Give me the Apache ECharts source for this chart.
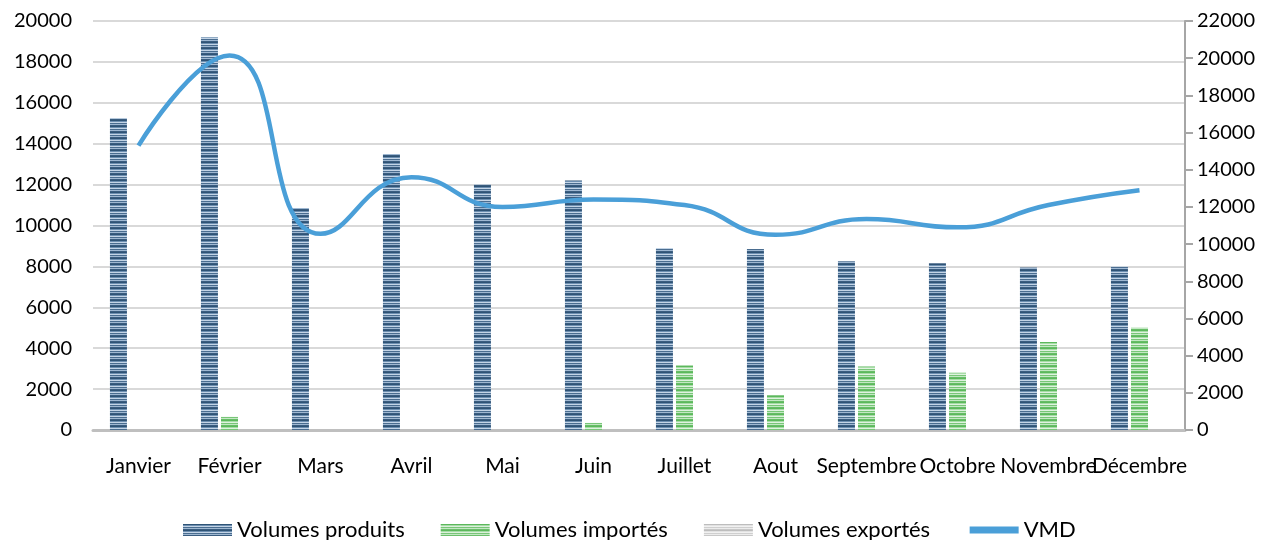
<!DOCTYPE html>
<html>
<head>
<meta charset="utf-8">
<script src="https://cdn.jsdelivr.net/npm/echarts@6/dist/echarts.min.js"></script>
<style>
  html, body { margin: 0; padding: 0; background: #fff; }
  #chart { width: 1270px; height: 540px; }
</style>
</head>
<body>
<div id="chart"></div>
<script>
const months = ['Janvier', 'Février', 'Mars', 'Avril', 'Mai', 'Juin', 'Juillet', 'Aout', 'Septembre', 'Octobre', 'Novembre', 'Décembre'];
const volumesProduits = [15250, 19200, 10850, 13500, 12000, 12200, 8900, 8850, 8250, 8150, 7950, 8000];
const volumesImportes = [0, 650, 0, 0, 0, 350, 3150, 1700, 3100, 2800, 4300, 5000];
const volumesExportes = [0, 0, 0, 0, 0, 0, 0, 0, 0, 0, 0, 0];
const vmd = [15300, 20150, 10550, 13600, 12000, 12400, 12100, 10500, 11350, 10900, 12100, 12900];

// Horizontal striped fills for the bars
function stripes(colors, rowH) {
  const c = document.createElement('canvas');
  c.width = 4;
  c.height = colors.length * rowH;
  const ctx = c.getContext('2d');
  colors.forEach((col, i) => {
    ctx.fillStyle = col;
    ctx.fillRect(0, i * rowH, 4, rowH);
  });
  return { image: c, repeat: 'repeat' };
}
const blueFill = stripes(['#2f5375', '#6d8fb1', '#c3d4e6', '#4a6d90', '#9fb8d2', '#3a5d80'], 1);
const greenFill = stripes(['#5cb85c', '#a6dca6', '#dff2df', '#78c678', '#c4e8c4', '#66bd66'], 1);
const greyFill = stripes(['#bdbdbd', '#e2e2e2', '#f2f2f2', '#cfcfcf', '#ececec', '#c6c6c6'], 1);

const FONT = 'Lato, "Open Sans", sans-serif';
const plain = v => String(v);
const chart = echarts.init(document.getElementById('chart'));
chart.setOption({
  animation: false,
  textStyle: { fontFamily: FONT },
  grid: { left: 93, right: 85, top: 21, bottom: 110 },
  legend: {
    bottom: -6,
    left: 178,
    itemWidth: 49,
    itemHeight: 12,
    itemGap: 36,
    textStyle: { fontFamily: FONT, fontSize: 22, color: '#000' },
    data: [
      { name: 'Volumes produits', icon: 'rect' },
      { name: 'Volumes importés', icon: 'rect' },
      { name: 'Volumes exportés', icon: 'rect' },
      { name: 'VMD', lineStyle: { color: '#4a9fd8', width: 7 }, itemStyle: { opacity: 0 } }
    ]
  },
  xAxis: {
    type: 'category',
    data: months,
    axisLine: { show: true, lineStyle: { color: '#bfbfbf', width: 3 } },
    axisTick: { show: false },
    axisLabel: { interval: 0, fontSize: 21, color: '#000', margin: 26, fontFamily: FONT }
  },
  yAxis: [
    {
      type: 'value',
      min: 0, max: 20000, interval: 2000,
      axisLine: { show: false },
      axisTick: { show: false },
      axisLabel: { fontSize: 20, color: '#000', margin: 21, fontFamily: FONT, formatter: plain },
      splitLine: { lineStyle: { color: '#d9d9d9', width: 2 } }
    },
    {
      type: 'value',
      min: 0, max: 22000, interval: 2000,
      position: 'right',
      axisLine: { show: true, lineStyle: { color: '#a6a6a6', width: 2 } },
      axisTick: { show: true, inside: false, length: 8, lineStyle: { color: '#a6a6a6', width: 2 } },
      axisLabel: { fontSize: 20, color: '#000', margin: 12, fontFamily: FONT, formatter: plain },
      splitLine: { show: false }
    }
  ],
  series: [
    {
      name: 'Volumes produits',
      type: 'bar',
      data: volumesProduits,
      barWidth: 17,
      barGap: '18%',
      itemStyle: { color: blueFill }
    },
    {
      name: 'Volumes importés',
      type: 'bar',
      data: volumesImportes,
      barWidth: 17,
      barGap: '18%',
      itemStyle: { color: greenFill }
    },
    {
      name: 'Volumes exportés',
      type: 'bar',
      data: volumesExportes,
      barWidth: 17,
      barGap: '18%',
      itemStyle: { color: greyFill }
    },
    {
      name: 'VMD',
      type: 'line',
      yAxisIndex: 1,
      data: vmd,
      smooth: 0.5,
      symbol: 'none',
      lineStyle: { color: '#4a9fd8', width: 4.5 },
      itemStyle: { color: '#4a9fd8' },
      z: 5
    }
  ]
});
</script>
</body>
</html>
